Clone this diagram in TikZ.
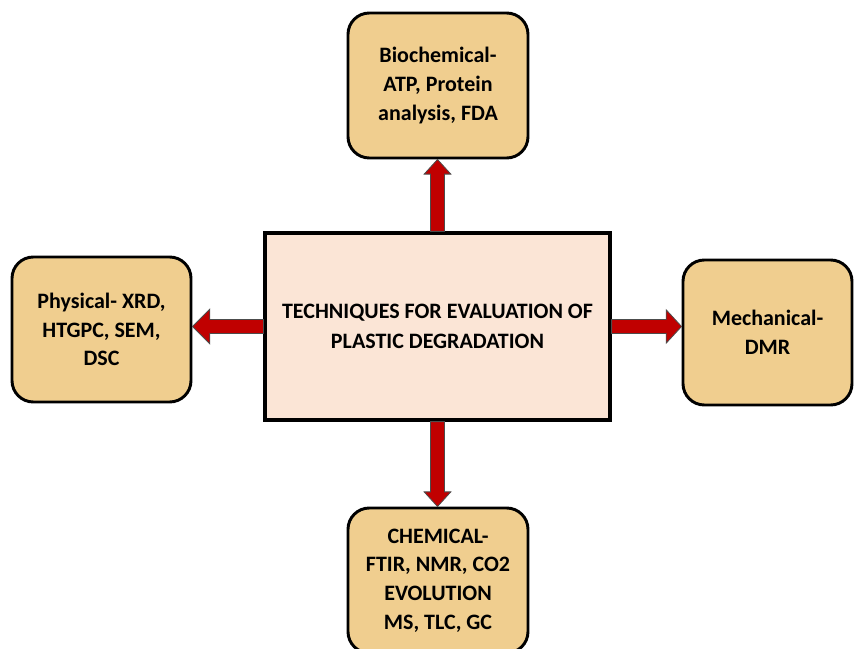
\documentclass[tikz,border=0pt]{standalone}
\usepackage{fontspec}
\setmainfont{Carlito}
\usetikzlibrary{calc}
\definecolor{boxtan}{HTML}{F0CE8F}
\definecolor{mainpeach}{HTML}{FBE5D6}
\definecolor{arrred}{HTML}{C00000}
\tikzset{
  method/.style={rounded corners=16pt, draw=black, line width=2.2pt, fill=boxtan, align=center,
                 font=\fontsize{16.5}{21.5}\selectfont\bfseries, inner sep=2pt,
                 minimum width=135pt, minimum height=108.75pt},
  central/.style={draw=black, line width=2.4pt, fill=mainpeach, align=center,
                  font=\fontsize{16.5}{22}\selectfont\bfseries,
                  minimum width=258.75pt, minimum height=140.25pt},
  blockarr/.style={draw=black!70, fill=arrred, line width=0.6pt, line join=miter},
}

\begin{document}
\begin{tikzpicture}[x=0.75pt, y=-0.75pt]
  \useasboundingbox (0,0) rectangle (854,649);
  \clip (0,0) rectangle (854,649);
  \def\shaftw{5.25pt}
  % centre box and the four technique groups
  \node[central] (main) at (437.5,326.5) {TECHNIQUES FOR EVALUATION OF\\PLASTIC DEGRADATION};
  \node[method] (bio) at (438,85.5) {Biochemical-\\ATP, Protein\\analysis, FDA};
  \node[method, minimum width=134.25pt] (phys) at (101.5,329.5) {Physical- XRD,\\HTGPC, SEM,\\DSC};
  \node[method, minimum width=126.75pt] (mech) at (767.5,332.5) {Mechanical-\\DMR};
  \node[method] (chem) at (438,580.5) {CHEMICAL-\\FTIR, NMR, CO2\\EVOLUTION\\MS, TLC, GC};
  % block arrows out of the centre box
  \foreach \sa/\tgt/\ta/\hw/\hl in {north/bio/south/10pt/11pt, south/chem/north/10pt/11pt,
                                    west/phys/east/13pt/13pt, east/mech/west/12.5pt/11.5pt} {
    \path (main.\sa) coordinate (s)
          ($(main.center)!(\tgt.\ta)!(s)$) coordinate (t)
          ($(t)!\hl!(s)$) coordinate (h);
    \draw[blockarr] ($(s)!\shaftw!90:(t)$) -- ($(h)!\shaftw!90:(t)$) -- ($(h)!\hw!90:(t)$) -- (t)
         -- ($(h)!\hw!-90:(t)$) -- ($(h)!\shaftw!-90:(t)$) -- ($(s)!\shaftw!-90:(t)$) -- cycle;
  }
\end{tikzpicture}
\end{document}
